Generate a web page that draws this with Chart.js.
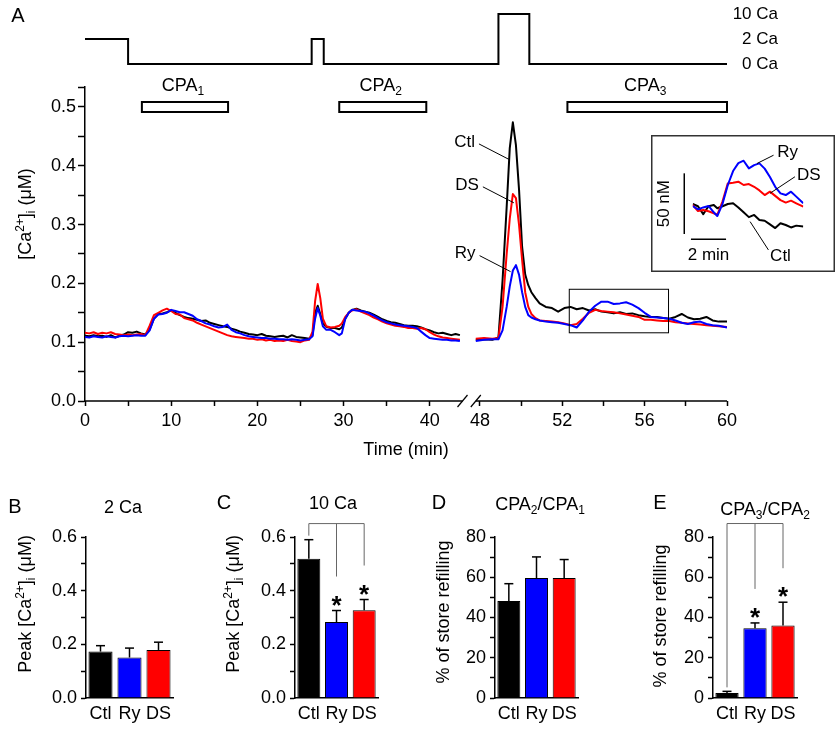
<!DOCTYPE html>
<html>
<head>
<meta charset="utf-8">
<title>Ca2+ store refilling</title>
<script src="https://cdn.jsdelivr.net/npm/chart.js@4.4.1/dist/chart.umd.min.js"></script>
<style>
  html, body { margin: 0; padding: 0; background: #fff; }
  #fig { position: relative; width: 840px; height: 730px; overflow: hidden; background: #fff; }
  #fig canvas { position: absolute; }
</style>
</head>
<body>
<div id="fig">
  <canvas id="protocol" width="840" height="80" style="left:0px;top:0px"></canvas>
  <canvas id="traces" width="840" height="395" style="left:0px;top:70px"></canvas>
  <canvas id="inset" width="184" height="137" style="left:651px;top:135px"></canvas>
  <canvas id="panelB" width="200" height="240" style="left:0px;top:490px"></canvas>
  <canvas id="panelC" width="200" height="240" style="left:205px;top:490px"></canvas>
  <canvas id="panelD" width="200" height="240" style="left:410px;top:490px"></canvas>
  <canvas id="panelE" width="220" height="240" style="left:620px;top:490px"></canvas>
</div>
<script>
// ---------- data ----------
const groups = ['Ctl', 'Ry', 'DS'];
const groupColors = ['#000000', '#0000ff', '#ff0000'];

// bath solution protocol (top trace)
const solutions = ['10 Ca', '2 Ca', '0 Ca'];
const protocolTime = [0, 5, 5, 26.3, 26.3, 27.7, 27.7, 48.9, 48.9, 50.4, 50.4, 60];
const protocolSolution = ['2 Ca', '2 Ca', '0 Ca', '0 Ca', '2 Ca', '2 Ca', '0 Ca', '0 Ca', '10 Ca', '10 Ca', '0 Ca', '0 Ca'];

// CPA applications (min)
const cpaNames = ['1', '2', '3'];
const cpaStart = [6.6, 29.5, 52.25];
const cpaEnd = [16.6, 39.6, 60];

// time axis (broken between 43.8 and 47.8 min)
const timeMajorTicks = [0, 10, 20, 30, 40, 48, 52, 56, 60];
const timeMinorTicks = [5, 15, 25, 35, 50, 54, 58];
const timeSegments = [[0, 43.8], [47.8, 60]];

// [Ca2+]i axis (uM)
const caMajorTicks = [0, 0.1, 0.2, 0.3, 0.4, 0.5];
const caMinorTicks = [0.05, 0.15, 0.25, 0.35, 0.45];
const caAxisMax = 0.534;

// traces, first part (0 - 43.5 min)
const leftTime = [
  0, 0.5, 1, 1.5, 2, 2.5, 3, 3.5, 4, 4.5,
  5, 5.5, 6, 6.5, 7, 7.5, 8, 8.5, 9, 9.5,
  10, 10.5, 11, 11.5, 12, 12.5, 13, 13.5, 14, 14.5,
  15, 15.5, 16, 16.5, 17, 17.5, 18, 18.5, 19, 19.5,
  20, 20.5, 21, 21.5, 22, 22.5, 23, 23.5, 24, 24.5,
  25, 25.5, 26,
  26.4, 26.7, 27.0, 27.3, 27.6, 28, 28.5, 29, 29.5, 29.8, 30.2, 30.6, 31,
  31.5, 32, 32.5, 33, 33.5, 34, 34.5, 35, 35.5, 36,
  36.5, 37, 37.5, 38, 38.5, 39, 39.5, 40, 40.5, 41,
  41.5, 42, 42.5, 43, 43.5
];
const ctlLeft = [
  .111, .110, .112, .110, .111, .109, .112, .108, .111, .113,
  .117, .116, .118, .115, .113, .122, .140, .148, .149, .151,
  .154, .150, .146, .143, .141, .140, .138, .136, .137, .133,
  .131, .129, .127, .126, .123, .121, .118, .116, .114, .113,
  .112, .114, .111, .110, .109, .110, .111, .108, .112, .109,
  .108, .107, .106,
  .112, .150, .162, .148, .132, .126, .124, .124, .122, .125, .140, .150, .155,
  .157, .154, .152, .150, .147, .143, .139, .136, .134, .133,
  .131, .129, .128, .128, .127, .125, .122, .120, .117, .115,
  .116, .114, .112, .114, .112
];
const dsLeft = [
  .116, .115, .117, .114, .116, .115, .117, .114, .113, .112,
  .113, .112, .113, .114, .112, .128, .146, .150, .154, .157,
  .153, .148, .147, .141, .139, .137, .133, .130, .127, .124,
  .121, .118, .115, .112, .110, .109, .108, .107, .106, .106,
  .104, .105, .103, .104, .102, .103, .102, .104, .102, .101,
  .100, .103, .104,
  .118, .170, .199, .175, .140, .127, .125, .126, .128, .132, .143, .150, .154,
  .156, .152, .149, .146, .142, .139, .135, .132, .130, .128,
  .127, .126, .124, .124, .123, .124, .122, .117, .113, .110,
  .108, .107, .106, .105, .104
];
const ryLeft = [
  .109, .108, .110, .109, .108, .110, .109, .108, .110, .111,
  .110, .111, .112, .111, .111, .120, .140, .147, .148, .150,
  .155, .153, .151, .151, .148, .145, .139, .136, .132, .130,
  .127, .125, .126, .130, .121, .117, .115, .112, .110, .109,
  .108, .107, .107, .106, .106, .105, .105, .104, .105, .104,
  .103, .104, .105,
  .110, .140, .158, .145, .127, .121, .121, .117, .112, .115, .140, .150, .155,
  .154, .153, .152, .149, .145, .141, .137, .134, .132, .130,
  .129, .128, .127, .126, .124, .118, .112, .107, .106, .105,
  .104, .104, .103, .103, .102
];

// traces, second part (47.8 - 60 min)
const rightTime = [
  47.8, 48.2, 48.6, 48.9, 49.1, 49.3, 49.45, 49.6, 49.75, 49.9,
  50.05, 50.2, 50.35, 50.5, 50.7, 50.9, 51.2, 51.5, 51.8, 52.1,
  52.4, 52.7, 53.0, 53.3, 53.6, 53.9, 54.2, 54.5, 54.8, 55.1,
  55.4, 55.7, 56.0, 56.3, 56.6, 56.9, 57.2, 57.5, 57.8, 58.1,
  58.4, 58.7, 59.0, 59.3, 59.6, 60.0
];
const ctlRight = [
  .104, .105, .104, .108, .205, .330, .430, .474, .435, .360,
  .262, .215, .197, .185, .175, .166, .160, .158, .152, .158,
  .160, .156, .158, .154, .156, .152, .151, .149, .151, .148,
  .149, .146, .144, .143, .143, .141, .140, .143, .148, .142,
  .139, .140, .143, .137, .135, .135
];
const dsRight = [
  .106, .107, .106, .107, .160, .250, .310, .352, .345, .300,
  .240, .185, .160, .148, .141, .137, .136, .135, .134, .132,
  .129, .131, .140, .150, .155, .153, .152, .151, .149, .147,
  .145, .143, .138, .138, .137, .136, .136, .134, .133, .132,
  .131, .130, .129, .128, .127, .126
];
const ryRight = [
  .102, .104, .105, .105, .120, .160, .195, .222, .231, .215,
  .185, .160, .146, .142, .139, .137, .135, .134, .133, .131,
  .129, .125, .137, .152, .162, .169, .169, .165, .166, .168,
  .164, .158, .150, .143, .142, .141, .140, .137, .133, .131,
  .134, .135, .131, .129, .128, .125
];

// inset: change in [Ca2+]i during CPA3 (nM vs min)
const insetTime = [0, 0.3, 0.6, 0.9, 1.2, 1.4, 1.7, 2.0, 2.3, 2.6, 2.9, 3.2, 3.5, 3.8, 4.1, 4.4, 4.7, 5.0, 5.3, 5.6, 5.9, 6.3];
const insetCtl = [0.8, -1, -7.5, -1, 0, -2.7, -1, 0.8, 1.5, -2, -6, -10, -8.2, -12.4, -13, -16, -19, -15, -16.5, -18.5, -17, -17.8];
const insetDS = [0, -5, -4.1, -5.2, -6.8, -8.2, 3, 17.8, 18.4, 19.2, 16.5, 17.3, 15, 12, 8.2, 11, 7.5, 4, 2, 3.6, 1.4, -1.4];
const insetRy = [-0.8, -3.6, -2, -0.8, -6, -9.1, 1, 16.5, 28, 34.5, 36.5, 30.2, 32.9, 34.3, 30, 23, 15, 9.6, 8.2, 11, 6.9, 1.4];

// bar panels (mean, SEM)
const peak2Ca = [0.173, 0.151, 0.179];
const peak2CaErr = [0.022, 0.035, 0.029];
const peak10Ca = [0.519, 0.283, 0.327];
const peak10CaErr = [0.071, 0.043, 0.040];
const refill21 = [48.2, 59.6, 59.6];
const refill21Err = [8.6, 10.5, 9.2];
const refill32 = [2.5, 34.6, 36.0];
const refill32Err = [0.8, 2.7, 11.6];
const sig10Ca = [false, true, true];
const sigRefill32 = [false, true, true];

const peakTicks = [0, 0.2, 0.4, 0.6];
const refillTicks = [0, 20, 40, 60, 80];

// ---------- setup ----------
const FONT = "'Liberation Sans', Arial, Helvetica, sans-serif";
Chart.defaults.font.family = FONT;
Chart.defaults.font.size = 18;
Chart.defaults.color = '#000';
Chart.defaults.animation = false;
Chart.defaults.responsive = false;
Chart.defaults.maintainAspectRatio = false;
Chart.defaults.plugins.legend.display = false;
Chart.defaults.plugins.tooltip.enabled = false;
Chart.defaults.elements.point.radius = 0;

const near = (a, b) => Math.abs(a - b) < 1e-6;

function line(ctx, x1, y1, x2, y2) {
  ctx.beginPath();
  ctx.moveTo(x1, y1);
  ctx.lineTo(x2, y2);
  ctx.stroke();
}

// text with sub/superscripts; (x,y) is the centre of the capitals
function drawRich(ctx, parts, x, y, size, rotate, align) {
  ctx.save();
  ctx.translate(x, y);
  if (rotate) ctx.rotate(-Math.PI / 2);
  const small = Math.round(size * 0.68);
  let total = 0;
  const widths = parts.map(([t, k]) => {
    ctx.font = (k ? small : size) + 'px ' + FONT;
    const w = ctx.measureText(t).width;
    total += w;
    return w;
  });
  let cx = align === 'left' ? 0 : align === 'right' ? -total : -total / 2;
  ctx.textAlign = 'left';
  ctx.textBaseline = 'alphabetic';
  ctx.fillStyle = '#000';
  parts.forEach(([t, k], i) => {
    ctx.font = (k ? small : size) + 'px ' + FONT;
    const dy = k === 'sup' ? -size * 0.42 : k === 'sub' ? size * 0.22 : 0;
    ctx.fillText(t, cx, size * 0.36 + dy);
    cx += widths[i];
  });
  ctx.restore();
}

// linear time scale with a break in it
const SEG_LEFT_FRAC = 0.588;
const SEG_GAP_FRAC = 0.0207;
class BrokenTimeScale extends Chart.LinearScale {
  static id = 'brokenTime';
  buildTicks() {
    return [...timeMajorTicks, ...timeMinorTicks].sort((a, b) => a - b).map(v => ({ value: v }));
  }
  _seg() {
    const [[a0, a1], [b0, b1]] = timeSegments;
    const w = this.right - this.left;
    const lw = w * SEG_LEFT_FRAC, gw = w * SEG_GAP_FRAC;
    return { a0, a1, b0, b1, w, lw, gw };
  }
  getPixelForValue(value) {
    const s = this._seg();
    if (value <= (s.a1 + s.b0) / 2) return this.left + (value - s.a0) / (s.a1 - s.a0) * s.lw;
    return this.left + s.lw + s.gw + (value - s.b0) / (s.b1 - s.b0) * (s.w - s.lw - s.gw);
  }
  getValueForPixel(pixel) {
    const s = this._seg();
    const p = pixel - this.left;
    if (p <= s.lw + s.gw / 2) return s.a0 + p / s.lw * (s.a1 - s.a0);
    return s.b0 + (p - s.lw - s.gw) / (s.w - s.lw - s.gw) * (s.b1 - s.b0);
  }
}
Chart.register(BrokenTimeScale);

// ---------- protocol trace ----------
new Chart(document.getElementById('protocol'), {
  type: 'line',
  data: {
    datasets: [{
      data: protocolTime.map((t, i) => ({ x: t, y: protocolSolution[i] })),
      borderColor: '#000', borderWidth: 2, borderJoinStyle: 'miter', pointRadius: 0
    }]
  },
  options: {
    layout: { padding: { left: 85, right: 62, top: 14, bottom: 16 } },
    scales: {
      x: { type: 'brokenTime', min: 0, max: 60, display: false },
      y: {
        type: 'category', labels: solutions, position: 'right', offset: false,
        afterFit: s => { s.width = 51; },
        grid: { display: false, drawTicks: false }, border: { display: false },
        ticks: { padding: 3, crossAlign: 'far', font: { size: 17 } }
      }
    }
  },
  plugins: [{
    id: 'letterA',
    afterDraw(chart) {
      const ctx = chart.ctx;
      ctx.save();
      ctx.font = '20px ' + FONT;
      ctx.fillStyle = '#000';
      ctx.textAlign = 'center';
      ctx.textBaseline = 'middle';
      ctx.fillText('A', 18, 16);
      ctx.restore();
    }
  }]
});

// ---------- main traces ----------
const series = [
  { color: groupColors[1], left: ryLeft, right: ryRight },
  { color: groupColors[2], left: dsLeft, right: dsRight },
  { color: groupColors[0], left: ctlLeft, right: ctlRight }
];
const traceSets = [];
series.forEach(s => {
  traceSets.push({ data: leftTime.map((t, i) => ({ x: t, y: s.left[i] })), borderColor: s.color, borderWidth: 2 });
  traceSets.push({ data: rightTime.map((t, i) => ({ x: t, y: s.right[i] })), borderColor: s.color, borderWidth: 2 });
});

const mainDecor = {
  id: 'mainDecor',
  afterDraw(chart) {
    const { ctx, chartArea } = chart;
    const x = chart.scales.x, y = chart.scales.y;
    ctx.save();
    ctx.strokeStyle = '#000';
    ctx.fillStyle = '#000';

    // broken time axis
    ctx.lineWidth = 1.5;
    const yb = chartArea.bottom;
    const xa = x.getPixelForValue(timeSegments[0][1]);
    const xb = x.getPixelForValue(timeSegments[1][0]);
    line(ctx, x.left, yb, xa, yb);
    line(ctx, xb, yb, x.right, yb);
    ctx.lineWidth = 1.2;
    [xa, xb].forEach(px => line(ctx, px - 5, yb + 6, px + 5, yb - 6));

    // CPA applications
    const yc = y.getPixelForValue(0.5);
    cpaStart.forEach((t0, i) => {
      const x1 = x.getPixelForValue(t0), x2 = x.getPixelForValue(cpaEnd[i]);
      ctx.lineWidth = 2;
      ctx.fillStyle = '#fff';
      ctx.fillRect(x1, yc - 5, x2 - x1, 10);
      ctx.strokeRect(x1, yc - 5, x2 - x1, 10);
      drawRich(ctx, [['CPA', ''], [cpaNames[i], 'sub']], (x1 + x2) / 2 - 2, yc - 22, 18, false, 'center');
    });

    // region shown in the inset
    ctx.lineWidth = 1;
    const bx0 = x.getPixelForValue(52.34), bx1 = x.getPixelForValue(57.16);
    const by0 = y.getPixelForValue(0.190), by1 = y.getPixelForValue(0.116);
    ctx.strokeRect(bx0, by0, bx1 - bx0, by1 - by0);

    // trace labels
    const labels = [
      { name: 'Ctl', t: 49.46, v: 0.41 },
      { name: 'DS', t: 49.65, v: 0.337 },
      { name: 'Ry', t: 49.49, v: 0.22 }
    ];
    ctx.font = '17px ' + FONT;
    ctx.fillStyle = '#000';
    ctx.textAlign = 'right';
    ctx.textBaseline = 'middle';
    labels.forEach(l => {
      const ax = x.getPixelForValue(l.t), ay = y.getPixelForValue(l.v);
      const sx = ax - 31, sy = ay - 16;
      line(ctx, sx, sy, ax, ay);
      ctx.fillText(l.name, sx - 4, sy - 2);
    });

    // y title
    drawRich(ctx, [['[Ca', ''], ['2+', 'sup'], [']', ''], ['i', 'sub'], [' (μM)', '']], 25, 144, 18, true, 'center');
    ctx.restore();
  }
};

new Chart(document.getElementById('traces'), {
  type: 'line',
  data: { datasets: traceSets },
  options: {
    layout: { padding: { left: 0, right: 113, top: 17, bottom: 0 } },
    elements: { line: { tension: 0, borderJoinStyle: 'round' } },
    scales: {
      x: {
        type: 'brokenTime', min: 0, max: 60,
        afterFit: s => { s.height = 64; },
        border: { display: false },
        grid: { drawOnChartArea: false, tickLength: 5, tickColor: '#000', tickWidth: 1.5 },
        ticks: {
          autoSkip: false, maxRotation: 0, padding: 4, font: { size: 18 },
          callback: v => timeMajorTicks.includes(v) ? String(v) : ''
        },
        title: { display: true, text: 'Time (min)', font: { size: 18 }, padding: { top: 0, bottom: 4 } }
      },
      y: {
        min: 0, max: caAxisMax,
        afterFit: s => { s.width = 85; },
        afterBuildTicks: s => {
          s.ticks = [...caMajorTicks, ...caMinorTicks, caAxisMax].sort((a, b) => a - b).map(v => ({ value: v }));
        },
        border: { color: '#000', width: 1.5 },
        grid: { drawOnChartArea: false, tickLength: 7, tickColor: '#000', tickWidth: 1.5 },
        ticks: {
          autoSkip: false, padding: 2, font: { size: 18 },
          callback: v => caMajorTicks.some(m => near(m, v)) ? v.toFixed(1) : ''
        }
      }
    }
  },
  plugins: [mainDecor]
});

// ---------- inset ----------
const insetDecor = {
  id: 'insetDecor',
  beforeDraw(chart) {
    const ctx = chart.ctx;
    ctx.save();
    ctx.fillStyle = '#fff';
    ctx.fillRect(0, 0, chart.width, chart.height);
    ctx.restore();
  },
  afterDraw(chart) {
    const ctx = chart.ctx;
    const x = chart.scales.x, y = chart.scales.y;
    ctx.save();
    ctx.strokeStyle = '#333';
    ctx.lineWidth = 1.5;
    ctx.strokeRect(0.75, 0.75, chart.width - 1.5, chart.height - 1.5);

    // scale bars: 50 nM, 2 min
    ctx.strokeStyle = '#000';
    ctx.lineWidth = 1.5;
    const vx = x.getPixelForValue(-0.48);
    const vy0 = y.getPixelForValue(-23.9), vy1 = y.getPixelForValue(-23.9 + 50);
    line(ctx, vx, vy0, vx, vy1);
    const hy = y.getPixelForValue(-28.3);
    const hx0 = x.getPixelForValue(-0.1), hx1 = x.getPixelForValue(-0.1 + 2);
    line(ctx, hx0, hy, hx1, hy);
    ctx.fillStyle = '#000';
    ctx.font = '17px ' + FONT;
    ctx.textAlign = 'center';
    ctx.textBaseline = 'middle';
    ctx.save();
    ctx.translate(vx - 20, (vy0 + vy1) / 2);
    ctx.rotate(-Math.PI / 2);
    ctx.fillText('50 nM', 0, 0);
    ctx.restore();
    ctx.fillText('2 min', (hx0 + hx1) / 2, hy + 16);

    // labels
    const labels = [
      { name: 'Ry', t: 3.66, v: 34.2, dx: 16.6, dy: -8.3, tx: 3.7, ty: -3 },
      { name: 'DS', t: 4.4, v: 9.6, dx: 25, dy: -16.6, tx: 2, ty: -1.7 },
      { name: 'Ctl', t: 3.27, v: -13.7, dx: 18.3, dy: 28.3, tx: 1.7, ty: 6 }
    ];
    ctx.textAlign = 'left';
    ctx.lineWidth = 1;
    labels.forEach(l => {
      const ax = x.getPixelForValue(l.t), ay = y.getPixelForValue(l.v);
      line(ctx, ax, ay, ax + l.dx, ay + l.dy);
      ctx.fillText(l.name, ax + l.dx + l.tx, ay + l.dy + l.ty);
    });
    ctx.restore();
  }
};

new Chart(document.getElementById('inset'), {
  type: 'line',
  data: {
    datasets: [
      { data: insetTime.map((t, i) => ({ x: t, y: insetRy[i] })), borderColor: groupColors[1], borderWidth: 2 },
      { data: insetTime.map((t, i) => ({ x: t, y: insetDS[i] })), borderColor: groupColors[2], borderWidth: 2 },
      { data: insetTime.map((t, i) => ({ x: t, y: insetCtl[i] })), borderColor: groupColors[0], borderWidth: 2 }
    ]
  },
  options: {
    layout: { padding: { left: 41.7, right: 31.7, top: 15.4, bottom: 30.6 } },
    elements: { line: { tension: 0, borderJoinStyle: 'round' } },
    scales: {
      x: { type: 'linear', min: 0, max: 6.3, display: false },
      y: { type: 'linear', min: -30, max: 45, display: false }
    }
  },
  plugins: [insetDecor]
});

// ---------- bar panels ----------
const peakTitle = [['Peak [Ca', ''], ['2+', 'sup'], [']', ''], ['i', 'sub'], [' (μM)', '']];
const refillTitle = [['% of store refilling', '']];

function makeBarPanel(cfg) {
  const canvas = document.getElementById(cfg.id);
  const L = cfg.left, T = 490;
  const decor = {
    id: 'barDecor' + cfg.letter,
    afterDatasetsDraw(chart) {
      const ctx = chart.ctx;
      const y = chart.scales.y;
      const bars = chart.getDatasetMeta(0).data;
      ctx.save();
      ctx.strokeStyle = '#000';
      ctx.lineWidth = 1.5;
      const tops = bars.map((b, i) => y.getPixelForValue(cfg.values[i] + cfg.errors[i]));
      bars.forEach((b, i) => {
        line(ctx, b.x, b.y, b.x, tops[i]);
        line(ctx, b.x - 4.5, tops[i], b.x + 4.5, tops[i]);
      });
      if (cfg.sig) {
        const ly = y.getPixelForValue(cfg.bracketLevel);
        ctx.strokeStyle = '#666';
        ctx.lineWidth = 1;
        line(ctx, bars[0].x, ly, bars[bars.length - 1].x, ly);
        bars.forEach((b, i) => {
          line(ctx, b.x, ly, b.x, cfg.sig[i] ? tops[i] - 34 : tops[i] - 4);
        });
        ctx.fillStyle = '#000';
        ctx.font = 'bold 26px ' + FONT;
        ctx.textAlign = 'center';
        ctx.textBaseline = 'alphabetic';
        bars.forEach((b, i) => {
          if (cfg.sig[i]) ctx.fillText('*', b.x, tops[i] + 3);
        });
      }
      ctx.restore();
    },
    afterDraw(chart) {
      const ctx = chart.ctx;
      ctx.save();
      ctx.fillStyle = '#000';
      ctx.font = '20px ' + FONT;
      ctx.textAlign = 'center';
      ctx.textBaseline = 'middle';
      ctx.fillText(cfg.letter, cfg.letterX - L, cfg.letterY - T);
      drawRich(ctx, cfg.title, cfg.titleX - L, cfg.titleY - T, 18, false, 'center');
      drawRich(ctx, cfg.yTitle, cfg.yTitleX - L, cfg.yTitleY - T, 18, true, 'center');
      ctx.restore();
    }
  };
  return new Chart(canvas, {
    type: 'bar',
    data: {
      labels: groups,
      datasets: [{
        data: cfg.values, backgroundColor: groupColors, borderColor: '#000', borderWidth: 1,
        barPercentage: 0.83, categoryPercentage: 1
      }]
    },
    options: {
      layout: { padding: { left: 0, right: L + canvas.width - cfg.axisRight, top: 537 - T, bottom: 0 } },
      scales: {
        x: {
          afterFit: s => { s.height = 730 - 698; },
          grid: { display: false, drawTicks: false },
          border: { color: '#000', width: 1.5 },
          ticks: { padding: 5, autoSkip: false, maxRotation: 0, minRotation: 0, font: { size: 18 } }
        },
        y: {
          min: 0, max: cfg.max,
          afterFit: s => { s.width = cfg.axisLeft - L; },
          border: { color: '#000', width: 1.5 },
          grid: { drawOnChartArea: false, tickLength: 5, tickColor: '#000', tickWidth: 1.5 },
          ticks: {
            stepSize: cfg.step, autoSkip: false, padding: 4, font: { size: 18 },
            callback: v => cfg.ticks.some(m => near(m, v)) ? v.toFixed(cfg.decimals) : ''
          }
        }
      }
    },
    plugins: [decor]
  });
}

makeBarPanel({
  id: 'panelB', letter: 'B', left: 0, axisLeft: 86, axisRight: 173,
  values: peak2Ca, errors: peak2CaErr, max: 0.6, step: 0.1, ticks: peakTicks, decimals: 1,
  letterX: 15, letterY: 507, title: [['2 Ca', '']], titleX: 123, titleY: 507,
  yTitle: peakTitle, yTitleX: 25, yTitleY: 604
});
makeBarPanel({
  id: 'panelC', letter: 'C', left: 205, axisLeft: 295, axisRight: 378,
  values: peak10Ca, errors: peak10CaErr, max: 0.6, step: 0.1, ticks: peakTicks, decimals: 1,
  sig: sig10Ca, bracketLevel: 0.65,
  letterX: 224, letterY: 503, title: [['10 Ca', '']], titleX: 333, titleY: 503,
  yTitle: peakTitle, yTitleX: 233, yTitleY: 604
});
makeBarPanel({
  id: 'panelD', letter: 'D', left: 410, axisLeft: 495, axisRight: 578,
  values: refill21, errors: refill21Err, max: 80, step: 10, ticks: refillTicks, decimals: 0,
  letterX: 439, letterY: 503,
  title: [['CPA', ''], ['2', 'sub'], ['/CPA', ''], ['1', 'sub']], titleX: 540, titleY: 504,
  yTitle: refillTitle, yTitleX: 443, yTitleY: 612
});
makeBarPanel({
  id: 'panelE', letter: 'E', left: 620, axisLeft: 713, axisRight: 797,
  values: refill32, errors: refill32Err, max: 80, step: 10, ticks: refillTicks, decimals: 0,
  sig: sigRefill32, bracketLevel: 86.7,
  letterX: 660, letterY: 503,
  title: [['CPA', ''], ['3', 'sub'], ['/CPA', ''], ['2', 'sub']], titleX: 765, titleY: 509,
  yTitle: refillTitle, yTitleX: 660, yTitleY: 616
});
</script>
</body>
</html>
